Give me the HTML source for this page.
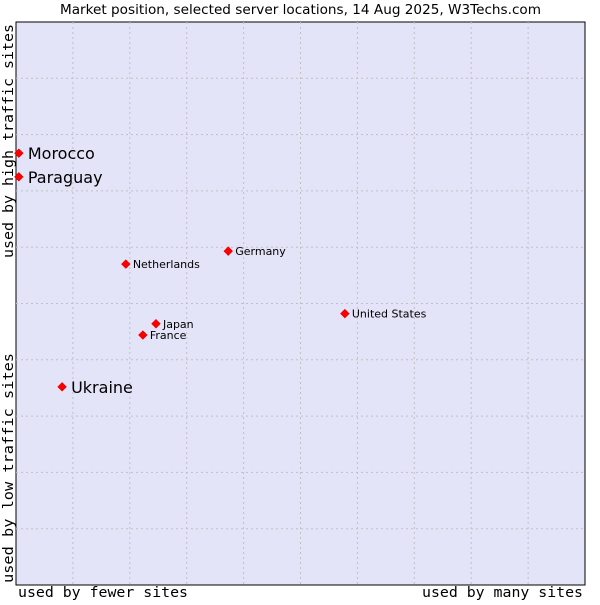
<!DOCTYPE html>
<html><head><meta charset="utf-8"><style>
body{margin:0;background:#fff;width:600px;height:600px;overflow:hidden}
svg text{font-family:"DejaVu Sans","Liberation Sans",sans-serif;fill:#000}
.mono{font-family:"DejaVu Sans Mono","Liberation Mono",monospace}
</style></head><body>
<svg id="chart" width="600" height="600">
<text x="60" y="14" font-size="13" textLength="481" lengthAdjust="spacingAndGlyphs">Market position, selected server locations, 14 Aug 2025, W3Techs.com</text>
<rect x="16" y="22" width="569" height="563" fill="#e4e4f8" stroke="#000" stroke-width="1"/>
<g id="grid"></g>
<g id="points"></g>
<text class="mono" x="18" y="597" font-size="14" textLength="170" lengthAdjust="spacingAndGlyphs">used by fewer sites</text>
<text class="mono" x="422" y="597" font-size="14" textLength="161" lengthAdjust="spacingAndGlyphs">used by many sites</text>
<text class="mono" transform="translate(13,583) rotate(-90)" font-size="14" textLength="230" lengthAdjust="spacingAndGlyphs">used by low traffic sites</text>
<text class="mono" transform="translate(13,258) rotate(-90)" font-size="14" textLength="234" lengthAdjust="spacingAndGlyphs">used by high traffic sites</text>
</svg>
<script>
const countries=["Morocco","Paraguay","Ukraine","Netherlands","Germany","Japan","France","United States"];
const xValues=[0.5,0.5,8.1,19.3,37.3,24.6,22.3,57.8];
const yValues=[76.7,72.5,35.2,57.0,59.3,46.4,44.4,48.2];
const highlighted=[true,true,true,false,false,false,false,false];
const NS="http://www.w3.org/2000/svg";
const L=16,R=585,T=22,B=585;
const xs=v=>L+(R-L)*v/100, ys=v=>B-(B-T)*v/100;
const grid=document.getElementById('grid');
for(let k=1;k<10;k++){
 const v=document.createElementNS(NS,'line');
 v.setAttribute('x1',xs(k*10));v.setAttribute('x2',xs(k*10));v.setAttribute('y1',T);v.setAttribute('y2',B);
 v.setAttribute('stroke','#c0c0c0');v.setAttribute('stroke-dasharray','2,3');
 
 
 grid.appendChild(v);
 const h=document.createElementNS(NS,'line');
 h.setAttribute('y1',ys(k*10));h.setAttribute('y2',ys(k*10));h.setAttribute('x1',L);h.setAttribute('x2',R);
 h.setAttribute('stroke','#c0c0c0');h.setAttribute('stroke-dasharray','2,3');
 
 
 grid.appendChild(h);
}
const pts=document.getElementById('points');
countries.forEach((c,i)=>{
 const x=xs(xValues[i]),y=ys(yValues[i]);
 const p=document.createElementNS(NS,'path');
 p.setAttribute('d',`M${x-4},${y}L${x},${y-4}L${x+4},${y}L${x},${y+4}Z`);
 p.setAttribute('fill','#ff0000');p.setAttribute('stroke','#e00');p.setAttribute('stroke-width','1');
 
 
 pts.appendChild(p);
 const t=document.createElementNS(NS,'text');
 const big=highlighted[i];
 t.setAttribute('x',x+(big?9:7));t.setAttribute('y',y+(big?6:4));
 t.setAttribute('font-size',big?'16':'11');
 t.textContent=c;
 
 
 pts.appendChild(t);
});
</script>
</body></html>
